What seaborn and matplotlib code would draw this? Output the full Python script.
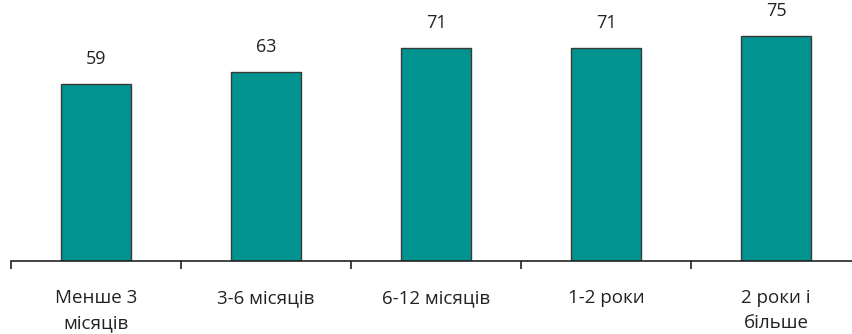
import numpy as np
import pandas as pd
import seaborn as sns
import matplotlib.pyplot as plt

categories = ['Менше 3\nмісяців', '3-6 місяців', '6-12 місяців', '1-2 роки', '2 роки і\nбільше']
values = [59, 63, 71, 71, 75]

df = pd.DataFrame({'period': categories, 'value': values})

sns.set_style('white')
plt.rcParams['font.family'] = ['Open Sans', 'DejaVu Sans']

fig = plt.figure(figsize=(8.53, 3.34), dpi=100)
ax = fig.add_axes([11 / 853, 73 / 334, 842 / 853, 240 / 334])

sns.barplot(data=df, x='period', y='value', color='#00938F', width=0.41,
            edgecolor='#3a3a3a', linewidth=1.0, saturation=1, ax=ax)

# value labels above bars
for i, v in enumerate(values):
    ax.text(i, v + 5.3, str(v), ha='center', va='bottom', fontsize=13, color='#222222')

ax.set_xlim(-0.5, -0.5 + 842 / 170)
ax.set_ylim(0, 80)
ax.set_xlabel('')
ax.set_ylabel('')
ax.set_yticks([])

for s in ['top', 'right', 'left']:
    ax.spines[s].set_visible(False)
ax.spines['bottom'].set_color('#222222')
ax.spines['bottom'].set_linewidth(1.2)

ax.set_xticks(np.arange(len(categories)))
ax.set_xticklabels(categories, fontsize=13.5, color='#222222', linespacing=1.5)
ax.set_xticks(np.arange(len(categories)) - 0.5, minor=True)
ax.tick_params(axis='x', which='both', bottom=True)
ax.tick_params(axis='x', which='major', length=0, pad=20)
ax.tick_params(axis='x', which='minor', length=6, width=1.2, color='#222222', direction='out')

fig.savefig('out.png', dpi=100)
